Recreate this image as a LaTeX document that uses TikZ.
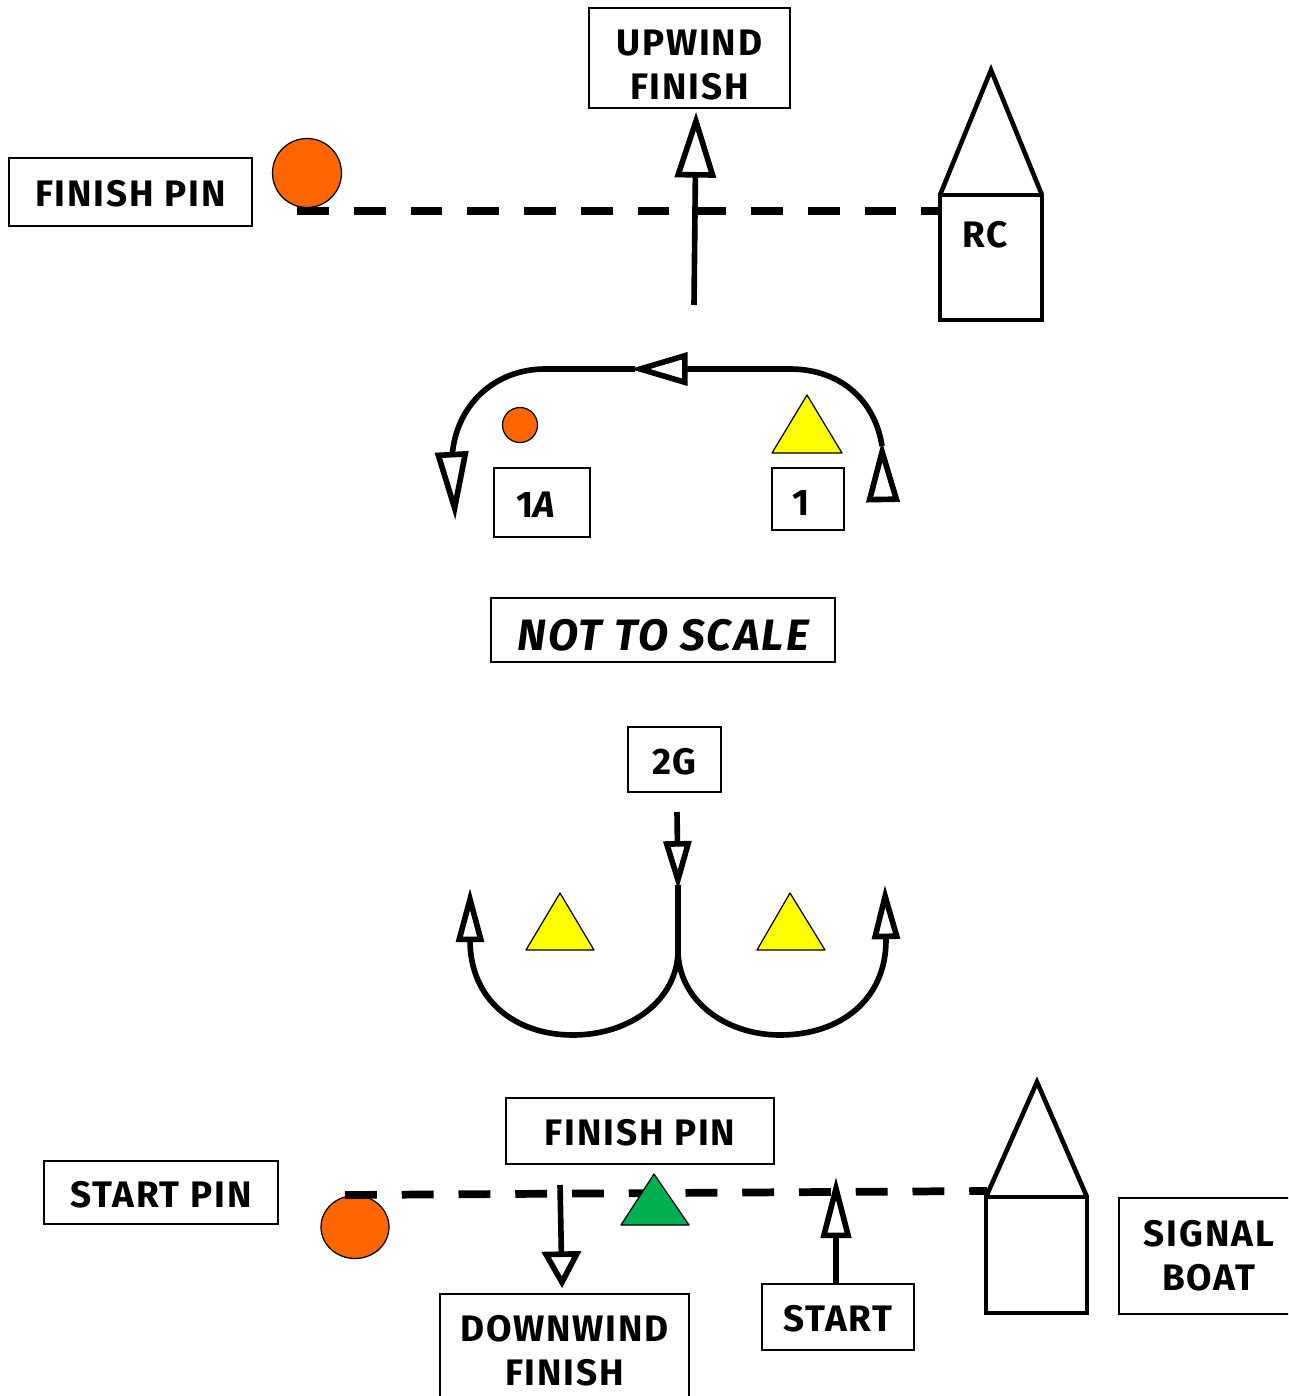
\documentclass[tikz,border=0pt]{standalone}
\usepackage{fontspec}
\setmainfont[LetterSpace=5]{Fira Sans}
\usetikzlibrary{arrows.meta,shapes.geometric}
\definecolor{pinorange}{HTML}{FF6600}
\definecolor{markgreen}{HTML}{00B050}
\definecolor{markyellow}{HTML}{FFFF00}
\begin{document}
\begin{tikzpicture}[x=0.02cm,y=-0.02cm]
      \tikzset{lowertext/.style={execute at begin node={\rule{0pt}{#1}}},
               labelbox/.style={draw, line width=1.1pt, fill=white, inner sep=0pt, align=center, font=\fontsize{21}{25}\selectfont\bfseries, lowertext=17.3pt},
               boxtext/.style={inner sep=0pt, align=center, font=\fontsize{21}{25}\selectfont\bfseries},
               flow/.style={line width=3.2pt},
               startline/.style={line width=4.4pt, dash pattern=on 18.1pt off 14.2pt},
               buoy/.style={draw, circle, line width=.7pt, fill=pinorange, inner sep=0pt},
               marker/.style={draw, line width=.7pt, line join=round},
               boat/.style={draw, line width=2.6pt, outer sep=0pt},
               opentip/.style 2 args={shorten >=-3pt, -{Triangle[open, fill=white, line width=3.2pt, length=#1, width=#2]}}}
      \useasboundingbox (0,0) rectangle (1288,1396);
      \clip (0,0) rectangle (1288,1396);
%% Upper finish
      \node[buoy, minimum size=1.38cm] (finishbuoy) at (307,173) {};
      \coordinate (lineA) at (297,211);
      \coordinate (lineB) at (940,211);
      \draw[startline] (lineA) -- (lineB);
      \node[labelbox, minimum width=4.02cm, minimum height=2cm] (upwind) at (689.5,58) {};
      \node[boxtext] (upwindtext) at (689.5,65) {UPWIND\\FINISH};
      \node[labelbox, minimum width=4.86cm, minimum height=1.36cm] (finishpin) at (130.5,192) {FINISH PIN};
      \node[boat, minimum width=2.04cm, minimum height=2.5cm, inner sep=0pt] (rc) at (991,257.5) {};
      \coordinate (rctop) at (991,70);
      \draw[boat] (rc.north west) -- (rctop) -- (rc.north east);
      \node[boxtext] (rclabel) at (985,235) {RC};
      \coordinate (upA) at (694,305);
      \coordinate (upB) at (696,117);
      \draw[flow, opentip={37.5pt}{23pt}] (upA) -- (upB);
%% Turn with mark 1
      \node[buoy, minimum size=.7cm] (smallbuoy) at (520,425) {};
      \coordinate (m1) at (807,395);
      \draw[marker, fill=markyellow] (m1) -- (772,453) -- (842,453) -- cycle;
      \node[labelbox, minimum width=1.92cm, minimum height=1.38cm, lowertext=14.5pt] (onea) at (542,502.5) {1\textit{A}\hspace*{5.7pt}};
      \node[labelbox, minimum width=1.44cm, minimum height=1.24cm, lowertext=19pt] (one) at (808,499) {1\hspace*{8pt}};
      \coordinate (turnA) at (883,500);
      \coordinate (turnB) at (882,446);
      \coordinate (turnC) at (790,369);
      \coordinate (turnD) at (635,369);
      \coordinate (turnE) at (545,369);
      \coordinate (turnF) at (452,458);
      \coordinate (turnG) at (455,515);
      \draw[flow] (turnB) .. controls (875,400) and (840,369) .. (turnC);
      \draw[flow] (turnD) -- (turnE) .. controls (495,369) and (455,405) .. (turnF);
      \draw[flow, opentip={35pt}{18.5pt}] (turnA) -- (turnB);
      \draw[flow, opentip={33pt}{18.5pt}] (turnC) -- (turnD);
      \draw[flow, opentip={39pt}{18.5pt}] (turnF) -- (turnG);
%% Caption
      \node[labelbox, minimum width=6.88cm, minimum height=1.28cm, font=\fontsize{25}{30}\selectfont\bfseries\itshape, lowertext=24pt] (scale) at (663,630) {NOT TO SCALE};
%% Gate 2G
      \node[labelbox, minimum width=1.86cm, minimum height=1.3cm] (twog) at (674.5,759.5) {2G};
      \coordinate (gateA) at (677,812);
      \coordinate (gateB) at (678,885);
      \coordinate (gateC) at (678,950);
      \coordinate (gateL) at (470,940);
      \coordinate (gateLtip) at (470,893);
      \coordinate (gateR) at (886,940);
      \coordinate (gateRtip) at (885,890);
      \draw[flow] (gateB) -- (gateC);
      \draw[flow] (gateC) .. controls (678,1000) and (630,1035) .. (573,1035) .. controls (515,1035) and (470,1000) .. (gateL);
      \draw[flow] (gateC) .. controls (678,1000) and (725,1035) .. (780,1035) .. controls (840,1035) and (886,1000) .. (gateR);
      \draw[flow, opentip={28pt}{15.5pt}] (gateA) -- (gateB);
      \draw[flow, opentip={31pt}{15.5pt}] (gateL) -- (gateLtip);
      \draw[flow, opentip={31pt}{15.5pt}] (gateR) -- (gateRtip);
      \draw[marker, fill=markyellow] (560,893) -- (526,950) -- (594,950) -- cycle;
      \draw[marker, fill=markyellow] (790,893) -- (757,950) -- (825,950) -- cycle;
%% Lower start
      \node[draw, ellipse, line width=.7pt, fill=pinorange, inner sep=0pt, minimum width=1.36cm, minimum height=1.26cm] (startbuoy) at (355,1227) {};
      \coordinate (lineC) at (345,1195);
      \coordinate (lineD) at (987,1191);
      \draw[startline] (lineC) -- (lineD);
      \draw[marker, fill=markgreen] (654,1174) -- (621,1225) -- (689,1225) -- cycle;
      \node[labelbox, minimum width=5.36cm, minimum height=1.32cm] (finishpintwo) at (640,1131) {FINISH PIN};
      \node[labelbox, minimum width=4.68cm, minimum height=1.26cm] (startpin) at (161,1192.5) {START PIN};
      \node[labelbox, minimum width=4.98cm, minimum height=2.28cm] (downwind) at (564.5,1351) {DOWNWIND\\FINISH};
      \node[labelbox, minimum width=3.04cm, minimum height=1.32cm] (start) at (838,1317) {START};
      \node[labelbox, minimum width=3.6cm, minimum height=2.32cm, lowertext=14.5pt] (signal) at (1209,1256) {SIGNAL\\BOAT};
      \node[boat, minimum width=2.02cm, minimum height=2.32cm, inner sep=0pt] (sb) at (1036.5,1255) {};
      \coordinate (sbtop) at (1037,1082);
      \draw[boat] (sb.north west) -- (sbtop) -- (sb.north east);
      \coordinate (downA) at (560,1185);
      \coordinate (downB) at (562,1283);
      \draw[flow, opentip={21pt}{22pt}] (downA) -- (downB);
      \coordinate (startB) at (836,1182);
      \draw[flow, opentip={35pt}{17pt}] (start.north -| startB) -- (startB);
\end{tikzpicture}
\end{document}
